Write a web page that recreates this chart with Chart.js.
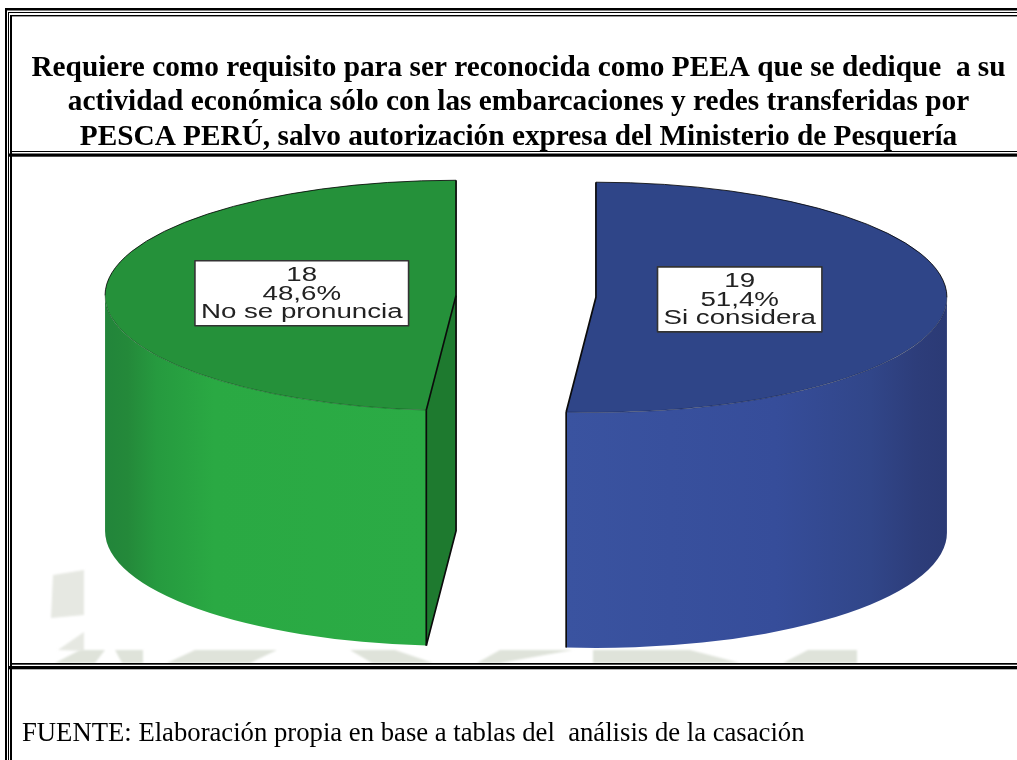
<!DOCTYPE html>
<html lang="es">
<head>
<meta charset="utf-8">
<title>PEEA</title>
<script src="https://cdn.jsdelivr.net/npm/chart.js@4/dist/chart.umd.min.js"></script>
<style>
html,body{margin:0;padding:0;background:#fff;overflow:hidden;width:1017px;height:760px}
#wrap{position:absolute;left:0;top:0;width:1017px;height:760px;overflow:hidden}
#bg{position:absolute;left:0;top:0}
canvas{position:absolute;left:0;top:0}
</style>
</head>
<body>
<div id="wrap">
<svg id="bg" width="1017" height="760" xmlns="http://www.w3.org/2000/svg">
  <defs><filter id="soft"><feGaussianBlur stdDeviation="1.2"/></filter></defs>
  <g fill="#e6e8e2" filter="url(#soft)">
    <polygon points="53,575 84,570 84,615 51,618"/>
    <polygon points="58,650 84,632 84,651"/>
  </g>
  <g fill="#dfe3da" filter="url(#soft)">
    <polygon points="55,663 80,650 105,650 95,663"/>
    <polygon points="115,650 143,650 143,663 122,663"/>
    <polygon points="167,663 195,650 277,650 250,663"/>
    <polygon points="350,650 395,650 433,663 372,663"/>
    <polygon points="477,663 500,650 573,650 500,663"/>
    <polygon points="593,650 690,650 740,663 593,663"/>
    <polygon points="783,663 808,650 857,650 857,663"/>
  </g>
  <g fill="#000">
    <rect x="5" y="8" width="1012" height="2.5"/>
    <rect x="8" y="12" width="1009" height="1"/>
    <rect x="10" y="15" width="1007" height="1.4"/>
    <rect x="5" y="8" width="2" height="752"/>
    <rect x="8" y="12" width="1" height="748"/>
    <rect x="10" y="15" width="2" height="745"/>
    <rect x="10" y="151" width="1007" height="1"/>
    <rect x="8" y="153.5" width="1009" height="3.2"/>
    <rect x="10" y="663" width="1007" height="1.7"/>
    <rect x="8" y="666" width="1009" height="3.3"/>
  </g>
</svg>
<canvas id="c" width="1037" height="760"></canvas>
</div>
<script>
const titleLines = [
  'Requiere como requisito para ser reconocida como PEEA que se dedique  a su',
  'actividad económica sólo con las embarcaciones y redes transferidas por',
  'PESCA PERÚ, salvo autorización expresa del Ministerio de Pesquería'
];
const categories = ['Si considera', 'No se pronuncia'];
const counts = [19, 18];
const percentLabels = ['51,4%', '48,6%'];
const footerText = 'FUENTE: Elaboración propia en base a tablas del  análisis de la casación';

const topColors = ['#2f4588', '#25913a'];
const faceColors = ['#2f4588', '#1e7a2f'];
const wallStops = [
  [[0, '#3a53a0'], [0.55, '#364d9a'], [0.8, '#314689'], [0.92, '#2d3d7a'], [1, '#2b3a75']],
  [[0, '#22853a'], [0.07, '#24893a'], [0.16, '#269a3f'], [0.34, '#2aa943'], [1, '#2bab45']]
];
const explode = [77.5, 62.5];
const labelFrac = [0.41, 0.44];

const SQUASH = 0.328, DEPTH = 235.5;

function geom(arc, i) {
  const mid = (arc.startAngle + arc.endAngle) / 2;
  const dx = Math.cos(mid) * explode[i], dy = Math.sin(mid) * explode[i];
  return {
    dx, dy,
    ax: arc.x + dx,
    ay: arc.y + dy * SQUASH,
    r: arc.outerRadius,
    ry: arc.outerRadius * SQUASH
  };
}
function pt(g, a) { return {x: g.ax + Math.cos(a) * g.r, y: g.ay + Math.sin(a) * g.ry}; }
function rim(ctx, g, a0, a1) {
  if (a1 <= a0) return;
  ctx.beginPath();
  ctx.ellipse(g.ax, g.ay, g.r, g.ry, 0, a0, a1);
  ctx.stroke();
}

const pie3d = {
  id: 'pie3d',
  beforeDatasetDraw(chart) {
    const ctx = chart.ctx;
    const arcs = chart.getDatasetMeta(0).data;
    arcs.forEach((arc, i) => {
      const g = geom(arc, i);
      const a0 = Math.max(arc.startAngle, 0), a1 = Math.min(arc.endAngle, Math.PI);
      if (a1 > a0) {
        const p0 = pt(g, a0), p1 = pt(g, a1);
        const front = i === 0 ? Math.min(p0.x, p1.x) : Math.max(p0.x, p1.x);
        const far = i === 0 ? g.ax + g.r : g.ax - g.r;
        const grad = ctx.createLinearGradient(i === 0 ? front : far, 0, i === 0 ? far : front, 0);
        wallStops[i].forEach(s => grad.addColorStop(s[0], s[1]));
        ctx.beginPath();
        ctx.ellipse(g.ax, g.ay, g.r, g.ry, 0, a0, a1);
        ctx.ellipse(g.ax, g.ay + DEPTH, g.r, g.ry, 0, a1, a0, true);
        ctx.closePath();
        ctx.fillStyle = grad;
        ctx.fill();
      }
      const th = arc.startAngle;
      if (Math.sin(th - Math.PI / 2) > 1e-3) {
        const f = pt(g, th);
        ctx.beginPath();
        ctx.moveTo(g.ax, g.ay);
        ctx.lineTo(f.x, f.y);
        ctx.lineTo(f.x, f.y + DEPTH);
        ctx.lineTo(g.ax, g.ay + DEPTH);
        ctx.closePath();
        ctx.fillStyle = faceColors[i];
        ctx.fill();
      }
    });
    arcs.forEach((arc, i) => {
      const g = geom(arc, i);
      ctx.save();
      ctx.translate(g.ax, g.ay);
      ctx.scale(1, SQUASH);
      ctx.translate(-arc.x, -arc.y);
      arc.draw(ctx);
      ctx.restore();
    });
    return false;
  },
  afterDatasetsDraw(chart) {
    const ctx = chart.ctx;
    const arcs = chart.getDatasetMeta(0).data;
    arcs.forEach((arc, i) => {
      const g = geom(arc, i);
      ctx.strokeStyle = 'rgba(0,0,0,0.8)';
      ctx.lineWidth = 1;
      rim(ctx, g, Math.max(arc.startAngle, -Math.PI / 2), Math.min(arc.endAngle, 0));
      rim(ctx, g, Math.max(arc.startAngle, Math.PI), Math.min(arc.endAngle, 1.5 * Math.PI));
      ctx.strokeStyle = 'rgba(0,0,0,0.35)';
      ctx.lineWidth = 0.8;
      rim(ctx, g, Math.max(arc.startAngle, 0), Math.min(arc.endAngle, Math.PI));
      ctx.strokeStyle = '#0b0b0b';
      ctx.lineWidth = 1.7;
      ctx.lineJoin = 'round';
      const s = pt(g, arc.startAngle), e = pt(g, arc.endAngle);
      ctx.beginPath();
      ctx.moveTo(s.x, s.y);
      ctx.lineTo(g.ax, g.ay);
      ctx.lineTo(e.x, e.y);
      ctx.stroke();
      const frontAngle = Math.sin(arc.startAngle) > 0.5 ? arc.startAngle : arc.endAngle;
      const f = pt(g, frontAngle);
      ctx.beginPath();
      ctx.moveTo(f.x, f.y);
      ctx.lineTo(f.x, f.y + DEPTH);
      ctx.stroke();
      if (Math.sin(arc.startAngle - Math.PI / 2) > 1e-3) {
        ctx.beginPath();
        ctx.moveTo(g.ax, g.ay);
        ctx.lineTo(g.ax, g.ay + DEPTH);
        ctx.lineTo(f.x, f.y + DEPTH);
        ctx.stroke();
      }
    });
    arcs.forEach((arc, i) => {
      const g = geom(arc, i);
      const mid = (arc.startAngle + arc.endAngle) / 2;
      const lx = g.ax + Math.cos(mid) * g.r * labelFrac[i];
      const ly = g.ay + Math.sin(mid) * g.ry * labelFrac[i];
      const lines = [String(counts[i]), percentLabels[i], categories[i]];
      const STRETCH = 1.42, LH = 18.5;
      ctx.font = '19.5px "Liberation Sans", Arial, sans-serif';
      const w = Math.max(...lines.map(t => ctx.measureText(t).width)) * STRETCH + 12;
      const h = 65;
      ctx.fillStyle = '#fff';
      ctx.strokeStyle = '#333';
      ctx.lineWidth = 1.6;
      ctx.fillRect(lx - w / 2, ly - h / 2, w, h);
      ctx.strokeRect(lx - w / 2, ly - h / 2, w, h);
      ctx.fillStyle = '#222';
      ctx.textAlign = 'center';
      ctx.textBaseline = 'middle';
      lines.forEach((t, k) => {
        ctx.save();
        ctx.translate(lx, ly + 1 + (k - 1) * LH);
        ctx.scale(STRETCH, 1);
        ctx.fillText(t, 0, 0);
        ctx.restore();
      });
    });
  },
  afterDraw(chart) {
    const ctx = chart.ctx;
    ctx.save();
    ctx.font = '26.7px "Liberation Serif", "Times New Roman", serif';
    ctx.fillStyle = '#000';
    ctx.textAlign = 'left';
    ctx.textBaseline = 'alphabetic';
    ctx.fillText(footerText, 22, 740.5);
    ctx.restore();
  }
};

new Chart(document.getElementById('c'), {
  type: 'pie',
  data: {
    labels: categories,
    datasets: [{
      data: counts,
      backgroundColor: topColors,
      borderWidth: 0,
      radius: 351,
      clip: false
    }]
  },
  options: {
    responsive: false,
    animation: false,
    layout: {padding: {bottom: 322}},
    plugins: {
      legend: {display: false},
      tooltip: {enabled: false},
      title: {
        display: true,
        text: titleLines,
        color: '#000',
        font: {family: '"Liberation Serif", "Times New Roman", serif', size: 29.3, weight: 'bold', lineHeight: '34.5px'},
        padding: {top: 51, bottom: 0}
      }
    }
  },
  plugins: [pie3d]
});
</script>
</body>
</html>
